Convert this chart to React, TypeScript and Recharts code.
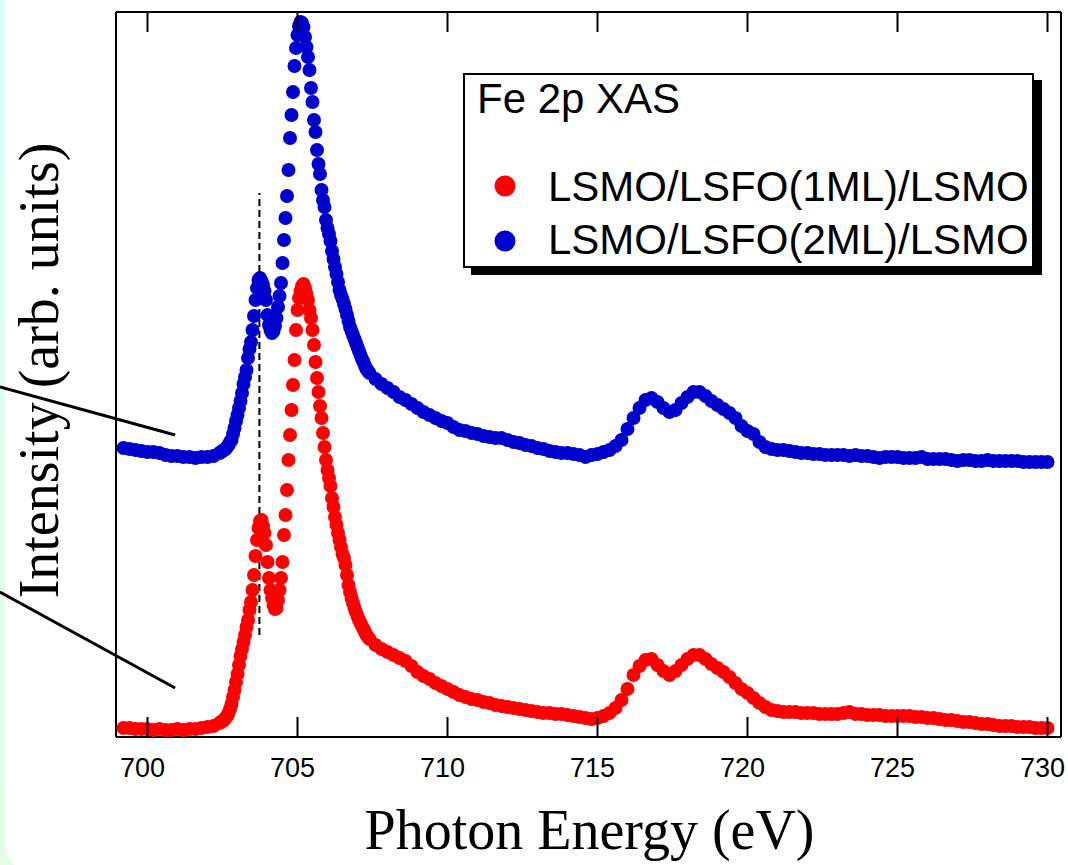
import { ScatterChart, Scatter, XAxis, YAxis, ReferenceLine, Legend, Label } from 'recharts'

// photon energy grid (eV), shared by both scans; finer steps across the L3 edge
const ENERGY = [
  699.2, 699.4, 699.6, 699.8, 700, 700.2, 700.4, 700.6, 700.8, 701, 701.2, 701.4, 701.6, 701.8, 702, 702.2, 702.4,
  702.45, 702.5, 702.55, 702.6, 702.65, 702.7, 702.75, 702.8, 702.85, 702.9, 702.95,
  703, 703.05, 703.1, 703.15, 703.2, 703.25, 703.3, 703.35, 703.4, 703.45,
  703.5, 703.55, 703.6, 703.65, 703.7, 703.75, 703.8, 703.85, 703.9, 703.95,
  704, 704.05, 704.1, 704.15, 704.2, 704.25, 704.3, 704.35, 704.4, 704.45,
  704.5, 704.55, 704.6, 704.65, 704.7, 704.75, 704.8, 704.85, 704.9, 704.95,
  705, 705.05, 705.1, 705.15, 705.2, 705.25, 705.3, 705.35, 705.4, 705.45,
  705.5, 705.55, 705.6, 705.65, 705.7, 705.75, 705.8, 705.85, 705.9, 705.95,
  706, 706.05, 706.1, 706.15, 706.2, 706.25, 706.3, 706.35, 706.4, 706.45, 706.5, 706.55, 706.6,
  706.65, 706.7, 706.75, 706.8, 706.85, 706.9, 706.95, 707, 707.05, 707.1, 707.15, 707.2, 707.25, 707.3, 707.35, 707.4,
  707.6, 707.8, 708, 708.2, 708.4, 708.6, 708.8,
  709, 709.2, 709.4, 709.6, 709.8, 710, 710.2, 710.4, 710.6, 710.8,
  711, 711.2, 711.4, 711.6, 711.8, 712, 712.2, 712.4, 712.6, 712.8,
  713, 713.2, 713.4, 713.6, 713.8, 714, 714.2, 714.4, 714.6, 714.8,
  715, 715.2, 715.4, 715.6, 715.8, 716, 716.2, 716.4, 716.6, 716.8,
  717, 717.2, 717.4, 717.6, 717.8, 718, 718.2, 718.4, 718.6, 718.8,
  719, 719.2, 719.4, 719.6, 719.8, 720, 720.2, 720.4, 720.6, 720.8,
  721, 721.2, 721.4, 721.6, 721.8, 722, 722.2, 722.4, 722.6, 722.8,
  723, 723.2, 723.4, 723.6, 723.8, 724, 724.2, 724.4, 724.6, 724.8,
  725, 725.2, 725.4, 725.6, 725.8, 726, 726.2, 726.4, 726.6, 726.8,
  727, 727.2, 727.4, 727.6, 727.8, 728, 728.2, 728.4, 728.6, 728.8,
  729, 729.2, 729.4, 729.6, 729.8, 730,
]

// LSMO/LSFO(1ML)/LSMO, arb. units
const ONE_ML = [
  9, 9, 8, 8, 8, 7, 8, 7, 7, 8, 7, 8, 8, 9, 10, 11, 14,
  15, 16, 17, 19, 21, 24, 28, 33, 40, 47, 55,
  63, 72, 81, 88, 95, 102, 110, 117, 127, 135,
  147, 162, 181, 197, 209, 216, 217, 211, 204, 192,
  175, 159, 147, 139, 132, 128, 129, 137, 147, 159,
  175, 202, 222, 247, 277, 302, 327, 352, 377, 407,
  427, 439, 446, 451, 453, 449, 443, 437, 427, 419,
  407, 392, 375, 359, 345, 331, 319, 304, 290, 277,
  267, 259, 251, 239, 230, 220, 212, 204, 197, 190, 183, 179, 172,
  162, 152, 145, 139, 134, 129, 125, 121, 117, 114, 111, 108, 105, 102, 100, 98,
  92, 88, 85, 82, 79, 76, 71,
  65, 61, 58, 54, 51, 48, 45, 42, 40, 38,
  37, 35, 34, 32, 31, 30, 29, 28, 27, 26,
  25, 24, 24, 23, 23, 22, 21, 20, 19, 18,
  19, 21, 24, 29, 37, 48, 62, 71, 77, 78,
  72, 66, 62, 66, 72, 78, 82, 82, 78, 73,
  69, 65, 60, 54, 48, 44, 39, 34, 30, 27,
  26, 25, 25, 25, 24, 24, 24, 23, 23, 23,
  23, 24, 25, 23, 23, 22, 22, 22, 21, 21,
  21, 21, 21, 20, 20, 19, 19, 18, 17, 17,
  16, 15, 15, 14, 13, 13, 12, 11, 11, 11,
  10, 10, 10, 9, 9, 9,
]

// LSMO/LSFO(2ML)/LSMO, arb. units (offset upward)
const TWO_ML = [
  289, 288, 287, 286, 285, 285, 284, 282, 281, 281, 280, 280, 279, 280, 280, 281, 284,
  285, 286, 287, 288, 290, 292, 295, 297, 303, 309, 316,
  322, 329, 336, 344, 353, 360, 367, 379, 388, 395,
  407, 421, 437, 449, 457, 459, 456, 452, 446, 437,
  422, 412, 407, 404, 406, 411, 419, 430, 441, 454,
  474, 497, 519, 541, 567, 599, 622, 645, 671, 689,
  702, 711, 715, 714, 710, 700, 690, 680, 667, 649,
  635, 617, 605, 587, 573, 563, 547, 537, 530, 517,
  509, 503, 496, 486, 478, 470, 463, 455, 447, 442, 438, 433, 428,
  422, 416, 410, 406, 402, 398, 394, 390, 386, 382, 378, 375, 371, 368, 366, 364,
  358, 353, 349, 345, 340, 337, 333,
  329, 325, 322, 319, 316, 314, 310, 307, 306, 304,
  303, 301, 300, 299, 299, 297, 295, 294, 292, 291,
  289, 288, 286, 285, 284, 284, 283, 282, 280, 282,
  283, 285, 287, 291, 297, 308, 319, 329, 337, 339,
  335, 329, 325, 327, 334, 340, 345, 345, 341, 336,
  332, 328, 324, 319, 311, 306, 303, 295, 290, 288,
  287, 287, 286, 285, 284, 284, 283, 283, 282, 282,
  282, 282, 281, 282, 281, 281, 280, 279, 280, 280,
  280, 279, 279, 279, 280, 278, 278, 278, 278, 277,
  276, 277, 277, 276, 276, 277, 276, 276, 276, 276,
  276, 275, 275, 275, 275, 275,
]

const X_TICKS = [700, 705, 710, 715, 720, 725, 730]
const X_DOMAIN = [698.95, 730.45]
const Y_DOMAIN = [0, 725]

// dashed guide through the L3 pre-peak
const PRE_PEAK = { energy: 703.73, from: 102, to: 544 }
// slide leader lines coming in from the left
const LEADERS = [
  [{ x: 695.08, y: 350 }, { x: 700.92, y: 302 }],
  [{ x: 695.08, y: 145 }, { x: 700.92, y: 49 }],
]

const SERIES = [
  { name: 'LSMO/LSFO(1ML)/LSMO', color: '#ff0000', values: ONE_ML },
  { name: 'LSMO/LSFO(2ML)/LSMO', color: '#0000cc', values: TWO_ML },
]

const SANS = '"Liberation Sans", Arial, Helvetica, sans-serif'
const SERIF = '"Liberation Serif", "Times New Roman", serif'
const FRAME = { stroke: '#000', strokeWidth: 2 }

const toPoints = (values: number[]) => ENERGY.map((e, i) => ({ energy: e, intensity: values[i] }))

// inward tick plus label below the frame
function BottomTick({ x, y, payload }: any) {
  return (
    <g>
      <line x1={x} x2={x} y1={y} y2={y - 20} {...FRAME} />
      <text x={x - 5} y={y + 40} textAnchor="middle" fontFamily={SANS} fontSize={27} fill="#000">
        {payload.value}
      </text>
    </g>
  )
}

function TopTick({ x, y }: any) {
  return <line x1={x} x2={x} y1={y} y2={y + 20} {...FRAME} />
}

function LegendBox() {
  return (
    <svg width={585} height={206} style={{ display: 'block' }}>
      <rect x={8} y={7} width={571} height={195} fill="#000" />
      <rect x={1} y={1} width={569} height={193} fill="#fff" stroke="#000" strokeWidth={2} />
      <text x={14} y={40} fontFamily={SANS} fontSize={42} fill="#000">Fe 2p XAS</text>
      {SERIES.map((s, i) => (
        <g key={s.name}>
          <circle cx={42} cy={113 + i * 55} r={10.5} fill={s.color} />
          <text x={85} y={128 + i * 53} fontFamily={SANS} fontSize={42} fill="#000">{s.name}</text>
        </g>
      ))}
    </svg>
  )
}

export default function App() {
  return (
    <div style={{ position: 'absolute', left: 0, top: 0, width: 1068, height: 865, overflow: 'hidden', background: 'linear-gradient(#dcfcf9, #e6fde6)' }}>
      <div style={{ position: 'absolute', left: 5, top: -40, width: 1100, height: 914, background: '#fff', borderBottomLeftRadius: 32 }} />
      <div style={{ position: 'absolute', left: 0, top: 0 }}>
        <ScatterChart width={1068} height={865} margin={{ top: 11, right: 6, bottom: 88, left: 115 }}>
          <XAxis
            dataKey="energy" type="number" domain={X_DOMAIN} allowDataOverflow ticks={X_TICKS} interval={0}
            height={40} tickSize={0} tickMargin={0} tick={<BottomTick />} tickLine={false} axisLine={FRAME}
          >
            <Label
              content={({ viewBox }: any) => (
                <text x={viewBox.x + viewBox.width / 2 + 1} y={viewBox.y + 112} textAnchor="middle" fontFamily={SERIF} fontSize={56} fill="#000">
                  Photon Energy (eV)
                </text>
              )}
            />
          </XAxis>
          <XAxis
            xAxisId="top" orientation="top" dataKey="energy" type="number" domain={X_DOMAIN} allowDataOverflow
            ticks={X_TICKS} interval={0} height={1} tickSize={0} tickMargin={0} tick={<TopTick />} tickLine={false} axisLine={FRAME}
          />
          <YAxis
            dataKey="intensity" type="number" domain={Y_DOMAIN} allowDataOverflow width={1}
            tick={false} tickLine={false} axisLine={FRAME}
          >
            <Label
              content={({ viewBox }: any) => {
                const cx = viewBox.x + viewBox.width - 58
                const cy = viewBox.y + viewBox.height / 2 - 4
                return (
                  <text x={cx} y={cy} transform={`rotate(-90, ${cx}, ${cy})`} textAnchor="middle" fontFamily={SERIF} fontSize={56} fill="#000">
                    Intensity (arb. units)
                  </text>
                )
              }}
            />
          </YAxis>
          <YAxis
            yAxisId="right" orientation="right" dataKey="intensity" type="number" domain={Y_DOMAIN} allowDataOverflow
            width={1} tick={false} tickLine={false} axisLine={FRAME}
          />
          {[...SERIES].reverse().map((s) => (
            <Scatter
              key={s.name}
              name={s.name}
              data={toPoints(s.values)}
              fill={s.color}
              isAnimationActive={false}
              shape={(p: any) => <circle cx={p.cx} cy={p.cy} r={7} fill={s.color} />}
            />
          ))}
          <ReferenceLine
            segment={[{ x: PRE_PEAK.energy, y: PRE_PEAK.from }, { x: PRE_PEAK.energy, y: PRE_PEAK.to }]}
            stroke="#000" strokeWidth={2} strokeDasharray="7 4" ifOverflow="visible"
          />
          {LEADERS.map((seg, i) => (
            <ReferenceLine key={i} segment={seg} stroke="#000" strokeWidth={3} ifOverflow="visible" />
          ))}
          <Legend
            layout="horizontal" verticalAlign="middle" align="center"
            wrapperStyle={{ left: 463, top: 73, width: 585, height: 206, lineHeight: 0 }}
            content={() => <LegendBox />}
          />
        </ScatterChart>
      </div>
    </div>
  )
}
